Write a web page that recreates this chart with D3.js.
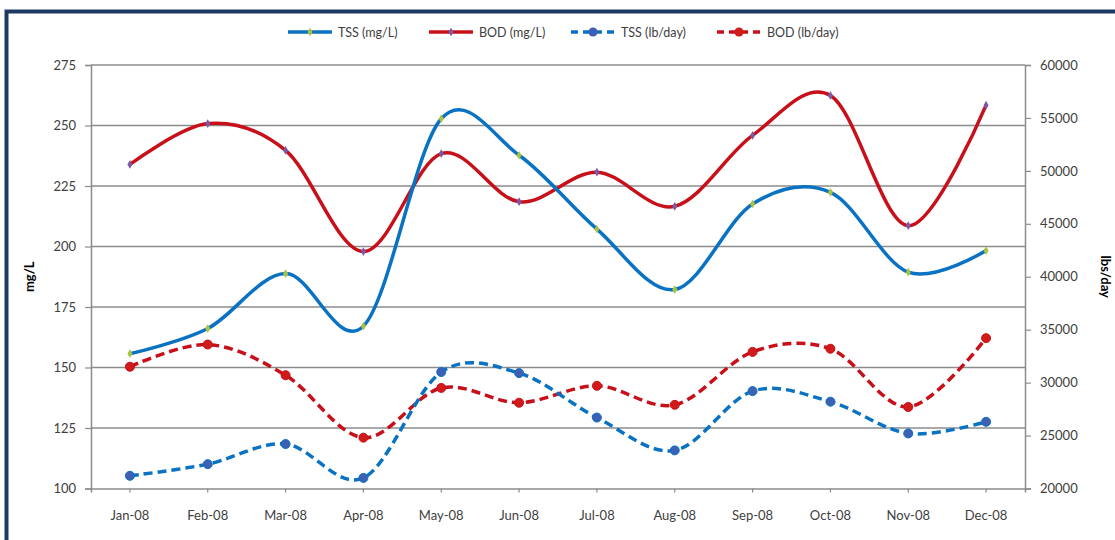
<!DOCTYPE html>
<html>
<head>
<meta charset="utf-8">
<script src="https://cdn.jsdelivr.net/npm/d3@7"></script>
<style>
  html, body { margin: 0; padding: 0; background: #fff; }
  svg { display: block; font-family: Lato, "Open Sans", sans-serif; }
</style>
</head>
<body>
<svg id="chart" width="1115" height="540"></svg>
<script>
const months = ["Jan-08","Feb-08","Mar-08","Apr-08","May-08","Jun-08","Jul-08","Aug-08","Sep-08","Oct-08","Nov-08","Dec-08"];
const tssMgL  = [155.7, 166.1, 188.8, 167.1, 252.8, 237.7, 207.2, 182.2, 217.6, 222.4, 189.4, 198.3];
const bodMgL  = [233.9, 250.8, 239.7, 197.9, 238.4, 218.5, 230.7, 216.6, 245.9, 262.4, 208.6, 258.4];
const tssLbDay = [21200, 22300, 24200, 21000, 31000, 30900, 26700, 23600, 29200, 28200, 25200, 26300];
const bodLbDay = [31500, 33600, 30700, 24800, 29500, 28100, 29700, 27900, 32900, 33200, 27700, 34200];
const leftTicks = [100, 125, 150, 175, 200, 225, 250, 275];
const rightTicks = [20000, 25000, 30000, 35000, 40000, 45000, 50000, 55000, 60000];

const svg = d3.select("#chart");
const L = 91, R = 1025, T = 65, B = 488.5;

// frame
svg.append("path").attr("d", "M6.5,540 L6.5,11.5 L1115,11.5")
  .attr("fill", "none").attr("stroke", "#1d3a62").attr("stroke-width", 4);

const x = d3.scaleBand().domain(months).range([L, R]);
const yL = d3.scaleLinear().domain([100, 275]).range([B, T]);
const yR = d3.scaleLinear().domain([20000, 60000]).range([B, T]);
const cx = m => x(m) + x.bandwidth() / 2;

// gridlines
svg.append("g").selectAll("line").data(leftTicks.filter(d => d > 100)).join("line")
  .attr("x1", L).attr("x2", R).attr("y1", d => yL(d)).attr("y2", d => yL(d))
  .attr("stroke", "#8c8c8c").attr("stroke-width", 1.5);

// left axis
const gL = svg.append("g").attr("transform", `translate(${L},0)`)
  .call(d3.axisLeft(yL).tickValues(leftTicks).tickSize(6).tickPadding(9));
// right axis
const gR = svg.append("g").attr("transform", `translate(${R},0)`)
  .call(d3.axisRight(yR).tickValues(rightTicks).tickSize(6).tickPadding(9).tickFormat(d3.format("d")));
// bottom axis
const gB = svg.append("g").attr("transform", `translate(0,${B})`)
  .call(d3.axisBottom(x).tickSize(4).tickPadding(18));

[gL, gR, gB].forEach(g => {
  g.select(".domain").attr("stroke", "#8c8c8c").attr("stroke-width", 1.5);
  g.selectAll(".tick line").attr("stroke", "#8c8c8c").attr("stroke-width", 1.2);
  g.selectAll("text").attr("fill", "#404040").style("font-size", "13px")
    .style("font-family", "Lato, 'Open Sans', sans-serif");
});

// axis titles
svg.append("text").attr("transform", `translate(34,${(T + B) / 2}) rotate(-90)`)
  .attr("text-anchor", "middle").attr("font-weight", "bold").attr("font-size", 13)
  .attr("fill", "#000").text("mg/L");
svg.append("text").attr("transform", `translate(1101,${(T + B) / 2}) rotate(90)`)
  .attr("text-anchor", "middle").attr("font-weight", "bold").attr("font-size", 13)
  .attr("fill", "#000").text("lbs/day");

const curve = d3.curveCardinal.tension(0);
const blue = "#0a72c2", red = "#c8101a";

const series = [
  { vals: bodLbDay, y: yR, color: red, dash: "9,5", marker: "circle", mfill: "#d11a1a" },
  { vals: tssLbDay, y: yR, color: blue, dash: "9,5", marker: "circle", mfill: "#3d5fb4" },
  { vals: bodMgL, y: yL, color: red, dash: null, marker: "diamond", mfill: "#7a5aa8" },
  { vals: tssMgL, y: yL, color: blue, dash: null, marker: "diamond", mfill: "#a9c23f" }
];

series.forEach(s => {
  const line = d3.line().x((d, i) => cx(months[i])).y(d => s.y(d)).curve(curve);
  svg.append("path").datum(s.vals).attr("d", line)
    .attr("fill", "none").attr("stroke", s.color).attr("stroke-width", 3.5)
    .attr("stroke-dasharray", s.dash);
  const g = svg.append("g");
  if (s.marker === "circle") {
    g.selectAll("circle").data(s.vals).join("circle")
      .attr("cx", (d, i) => cx(months[i])).attr("cy", d => s.y(d)).attr("r", 4.5)
      .attr("fill", s.mfill).attr("stroke", s.color).attr("stroke-width", 1);
  } else {
    g.selectAll("path").data(s.vals).join("path")
      .attr("d", d3.symbol(d3.symbolDiamond, 22))
      .attr("transform", (d, i) => `translate(${cx(months[i])},${s.y(d)})`)
      .attr("fill", s.mfill);
  }
});

// legend
const legend = [
  { label: "TSS (mg/L)", color: blue, dash: null, marker: "diamond", mfill: "#a9c23f", x: 288 },
  { label: "BOD (mg/L)", color: red, dash: null, marker: "diamond", mfill: "#7a5aa8", x: 429 },
  { label: "TSS (lb/day)", color: blue, dash: "7,5", marker: "circle", mfill: "#3d5fb4", x: 571 },
  { label: "BOD (lb/day)", color: red, dash: "7,5", marker: "circle", mfill: "#d11a1a", x: 717 }
];
const ly = 32;
legend.forEach(l => {
  const g = svg.append("g");
  g.append("line").attr("x1", l.x).attr("x2", l.x + 44).attr("y1", ly).attr("y2", ly)
    .attr("stroke", l.color).attr("stroke-width", 3.5).attr("stroke-dasharray", l.dash);
  if (l.marker === "circle") {
    g.append("circle").attr("cx", l.x + 22).attr("cy", ly).attr("r", 4.5).attr("fill", l.mfill);
  } else {
    g.append("path").attr("d", d3.symbol(d3.symbolDiamond, 22))
      .attr("transform", `translate(${l.x + 22},${ly})`).attr("fill", l.mfill);
  }
  g.append("text").attr("x", l.x + 50).attr("y", ly + 4.5).attr("font-size", 12.5)
    .attr("fill", "#404040").text(l.label);
});
</script>
</body>
</html>
